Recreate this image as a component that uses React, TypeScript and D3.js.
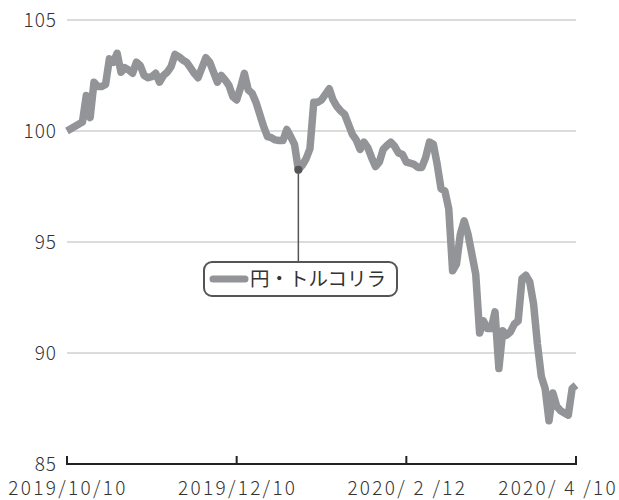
import * as d3 from 'd3';
import { useEffect, useRef } from 'react';

// 円・トルコリラ, one value per trading day from 2019/10/10 to 2020/4/10
const rates: number[] = [
  100.0, 100.1, 100.2, 100.3, 100.4, 101.6, 100.6, 102.2, 102.0, 102.0,
  102.1, 103.25, 103.1, 103.5, 102.65, 102.85, 102.75, 102.6, 103.1, 102.95,
  102.5, 102.4, 102.45, 102.6, 102.2, 102.5, 102.65, 102.9, 103.45, 103.35,
  103.2, 103.1, 102.85, 102.6, 102.4, 102.85, 103.3, 103.1, 102.65, 102.2,
  102.5, 102.3, 102.05, 101.55, 101.4, 101.95, 102.6, 101.85, 101.7, 101.3,
  100.75, 100.2, 99.75, 99.7, 99.6, 99.57, 99.57, 100.07, 99.75, 99.4,
  98.25, 98.45, 98.75, 99.2, 101.3, 101.3, 101.4, 101.65, 101.9, 101.4,
  101.1, 100.9, 100.75, 100.3, 99.85, 99.6, 99.17, 99.5, 99.25, 98.8,
  98.4, 98.6, 99.17, 99.35, 99.5, 99.3, 99.0, 98.95, 98.6, 98.55,
  98.5, 98.36, 98.36, 98.8, 99.5, 99.4, 98.5, 97.4, 97.3, 96.5,
  93.7, 94.0, 95.35, 95.95, 95.35, 94.45, 93.55, 90.9, 91.45, 91.1,
  91.1, 91.85, 89.3, 91.0, 90.8, 90.95, 91.3, 91.45, 93.35, 93.5,
  93.2, 92.2, 90.4, 88.95, 88.4, 86.95, 88.2, 87.6, 87.4, 87.3,
  87.2, 88.4, 88.55,
];

const xTickIndex = [0, 44, 88, 132];
const xTickLabels = ['2019/10/10', '2019/12/10', '2020/ 2 /12', '2020/ 4 /10'];
const yTicks = [85, 90, 95, 100, 105];
const seriesName = '円・トルコリラ';
const calloutIndex = 60;

const W = 619;
const H = 500;
const margin = { top: 20, right: 43, bottom: 36, left: 67 };
const font = '"Noto Sans CJK JP", "Noto Sans", sans-serif';

const App = () => {
  const ref = useRef<SVGSVGElement>(null);

  useEffect(() => {
    const svg = d3.select(ref.current);
    svg.selectAll('*').remove();

    const x = d3
      .scaleLinear()
      .domain([0, rates.length - 1])
      .range([margin.left, W - margin.right]);
    const y = d3
      .scaleLinear()
      .domain([85, 105])
      .range([H - margin.bottom, margin.top]);

    // grid + y labels
    const grid = svg.append('g');
    grid
      .selectAll('line')
      .data(yTicks.filter((t) => t !== 85))
      .enter()
      .append('line')
      .attr('x1', margin.left)
      .attr('x2', W - margin.right)
      .attr('y1', (d) => y(d))
      .attr('y2', (d) => y(d))
      .style('stroke', '#b8b8b8')
      .style('stroke-width', 1);
    grid
      .selectAll('text')
      .data(yTicks)
      .enter()
      .append('text')
      .attr('x', 57)
      .attr('y', (d) => y(d))
      .attr('dy', '0.35em')
      .attr('text-anchor', 'end')
      .style('font-family', font)
      .style('font-size', '19px')
      .style('font-weight', 300)
      .style('letter-spacing', '1px')
      .style('fill', '#333')
      .text((d) => d);

    // x axis
    const axis = svg.append('g');
    axis
      .append('line')
      .attr('x1', margin.left)
      .attr('x2', W - margin.right)
      .attr('y1', y(85))
      .attr('y2', y(85))
      .style('stroke', '#222')
      .style('stroke-width', 2);
    axis
      .selectAll('.tick')
      .data(xTickIndex)
      .enter()
      .append('line')
      .attr('class', 'tick')
      .attr('x1', (d) => x(d))
      .attr('x2', (d) => x(d))
      .attr('y1', y(85) + 1)
      .attr('y2', y(85) - 8)
      .style('stroke', '#222')
      .style('stroke-width', 2);
    axis
      .selectAll('text')
      .data(xTickIndex)
      .enter()
      .append('text')
      .attr('x', (d, i) => (i === xTickIndex.length - 1 ? W - 1 : x(d) + 1))
      .attr('y', 488)
      .attr('dy', '0.35em')
      .attr('text-anchor', (d, i) => (i === xTickIndex.length - 1 ? 'end' : 'middle'))
      .style('font-family', font)
      .style('font-size', '19px')
      .style('font-weight', 300)
      .style('letter-spacing', '2.3px')
      .style('fill', '#333')
      .style('white-space', 'pre')
      .text((d, i) => xTickLabels[i]);

    // callout line + legend box
    const cx = x(calloutIndex);
    const cy = y(rates[calloutIndex]);
    const boxTop = 262;
    svg
      .append('line')
      .attr('x1', cx)
      .attr('x2', cx)
      .attr('y1', cy)
      .attr('y2', boxTop)
      .style('stroke', '#555')
      .style('stroke-width', 1.5);

    const lg = svg.append('g');
    lg.append('rect')
      .attr('x', 204)
      .attr('y', boxTop)
      .attr('width', 193)
      .attr('height', 34)
      .attr('rx', 8)
      .style('fill', '#fff')
      .style('stroke', '#555')
      .style('stroke-width', 2);
    lg.append('line')
      .attr('x1', 213)
      .attr('x2', 245)
      .attr('y1', boxTop + 17)
      .attr('y2', boxTop + 17)
      .style('stroke', '#939497')
      .style('stroke-width', 7)
      .style('stroke-linecap', 'round');
    lg.append('text')
      .attr('x', 250)
      .attr('y', boxTop + 17)
      .attr('dy', '0.36em')
      .style('font-family', font)
      .style('font-size', '19.5px')
      .style('fill', '#333')
      .text(seriesName);

    // series line
    const line = d3
      .line<number>()
      .x((d, i) => x(i))
      .y((d) => y(d));
    svg
      .append('path')
      .datum(rates)
      .attr('d', line)
      .style('fill', 'none')
      .style('stroke', '#939497')
      .style('stroke-width', 7.5)
      .style('stroke-linejoin', 'round');

    svg
      .append('circle')
      .attr('cx', cx)
      .attr('cy', cy)
      .attr('r', 4)
      .style('fill', '#555');
  }, []);

  return (
    <svg
      ref={ref}
      width={W}
      height={H}
      style={{ position: 'absolute', left: 0, top: 0, background: '#fff' }}
    />
  );
};

export default App;
